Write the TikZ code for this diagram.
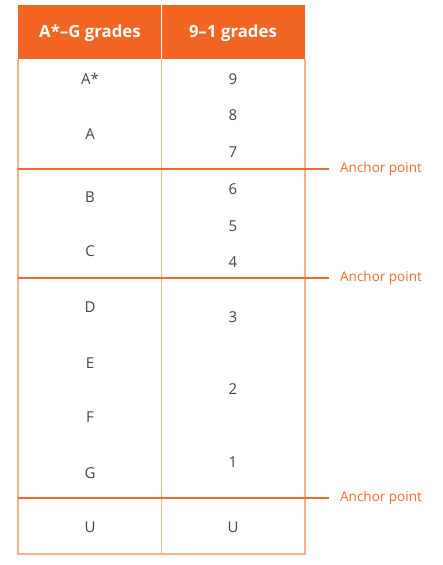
\documentclass[tikz,border=0pt]{standalone}
\usepackage{fontspec}
\setmainfont{Open Sans}
\definecolor{hdr}{HTML}{F26522}
\definecolor{grid}{HTML}{F5B08C}
\definecolor{anch}{HTML}{EE6A2E}
\definecolor{txt}{HTML}{444444}
\begin{document}
\begin{tikzpicture}[x=1pt,y=-1pt,
  cell/.style={font=\fontsize{15}{17}\selectfont, text=txt, inner sep=0pt, anchor=center},
  head/.style={font=\fontsize{16.8}{19}\selectfont\bfseries, text=white, inner sep=0pt},
  anchlbl/.style={font=\fontsize{13.5}{16}\selectfont, text=anch, anchor=west, inner sep=0pt},
  gridline/.style={draw=grid, line width=1.1pt},
  anchline/.style={draw=anch, line width=1.3pt}]
\useasboundingbox (0,0) rectangle (442,565);
% header
\fill[hdr] (18,5) rectangle (305,59);
\draw[white, line width=1.1pt] (161.5,5) -- (161.5,59);
\node[head] (h1) at (90,33) {A*–G grades};
\node[head] (h2) at (233,33) {9–1 grades};
% grid
\draw[gridline] (18,59) -- (18,554) -- (305,554) -- (305,59);
\draw[gridline] (161.5,59) -- (161.5,554);
% anchor lines
\coordinate (a1s) at (18,169); \coordinate (a1e) at (329,169);
\coordinate (a2s) at (18,278); \coordinate (a2e) at (329,278);
\coordinate (a3s) at (18,498); \coordinate (a3e) at (329,498);
\draw[anchline] (a1s) -- (a1e);
\draw[anchline] (a2s) -- (a2e);
\draw[anchline] (a3s) -- (a3e);
\node[anchlbl] (l1) at (340,169) {Anchor point};
\node[anchlbl] (l2) at (340,278) {Anchor point};
\node[anchlbl] (l3) at (340,498) {Anchor point};
% left column
\node[cell] (ga) at (90,79) {A*};
\node[cell] (gb) at (90,134) {A};
\node[cell] (gc) at (90,197) {B};
\node[cell] (gd) at (90,251) {C};
\node[cell] (ge) at (90,307) {D};
\node[cell] (gf) at (90,363) {E};
\node[cell] (gg) at (90,417) {F};
\node[cell] (gh) at (90,473) {G};
\node[cell] (gu) at (90,527) {U};
% right column
\node[cell] (n9) at (233,79) {9};
\node[cell] (n8) at (233,115) {8};
\node[cell] (n7) at (233,152) {7};
\node[cell] (n6) at (233,189) {6};
\node[cell] (n5) at (233,226) {5};
\node[cell] (n4) at (233,262) {4};
\node[cell] (n3) at (233,317) {3};
\node[cell] (n2) at (233,389) {2};
\node[cell] (n1) at (233,462) {1};
\node[cell] (nu) at (233,527) {U};
\end{tikzpicture}
\end{document}
